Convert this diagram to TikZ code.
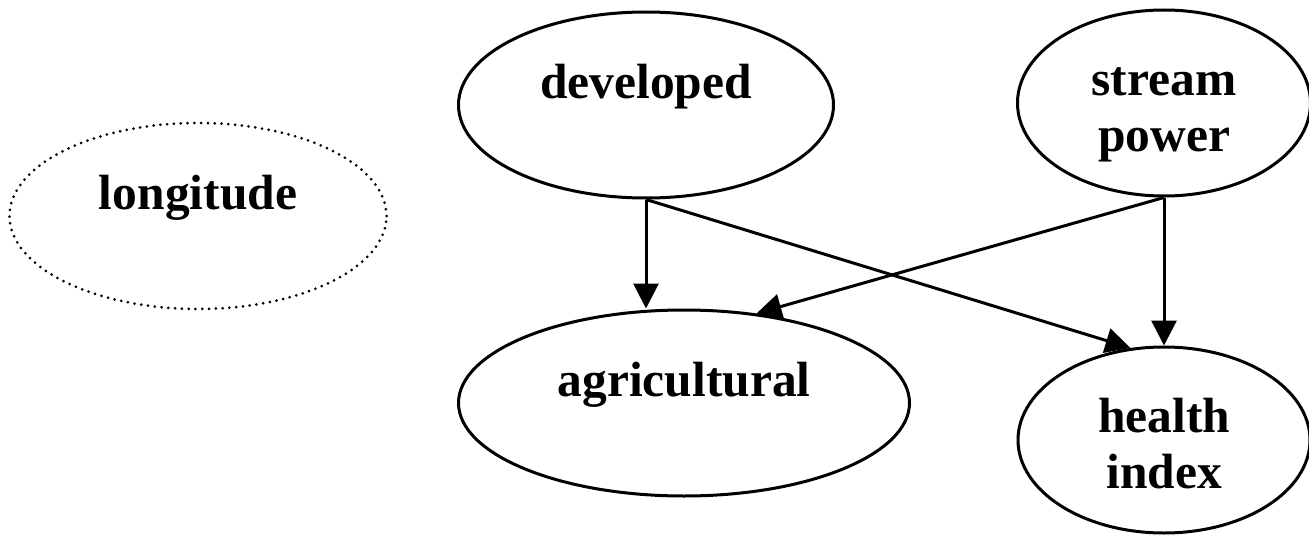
\documentclass[tikz,border=0pt]{standalone}
\usepackage{fontspec}
\setmainfont{Liberation Serif}
\usetikzlibrary{shapes.geometric,arrows.meta}
\begin{document}
\begin{tikzpicture}[x=1pt,y=-1pt,>={Triangle[length=25pt,width=25pt]},line join=round,
  font=\fontsize{49.5}{55.5}\selectfont\bfseries,
  var/.style={draw,ellipse,line width=3pt,inner sep=0pt,minimum height=186pt},
  hidden/.style={var,line width=3pt,line cap=round,dash pattern=on 0pt off 6.8pt},
  txt/.style={anchor=base,yshift=7pt,align=center,inner sep=0pt},
  txttwo/.style={txt,yshift=-55pt},
  edge/.style={->,line width=3pt}]
  \useasboundingbox (0,0) rectangle (1309,535);
  % variables
  \node[hidden,minimum width=377pt] (lon) at (198,216) {};
  \node[var,minimum width=375pt] (dev) at (646,105) {};
  \node[var,minimum width=293pt] (str) at (1164,103) {};
  \node[var,minimum width=451pt] (agr) at (684,403) {};
  \node[var,minimum width=292pt] (hea) at (1164,440) {};
  \node[txt] (lon-t) at (lon) {longitude};
  \node[txt] (dev-t) at (dev) {developed};
  \node[txttwo] (str-t) at (str) {stream\\power};
  \node[txt] (agr-t) at (agr) {agricultural};
  \node[txttwo] (hea-t) at (hea) {health\\index};
  % links
  \draw[edge] (dev.south) -- (dev.south |- agr.north);
  \draw[edge] (dev.south) -- (hea.110);
  \draw[edge] (str.south) -- (agr.51);
  \draw[edge] (str.south) -- (hea.north);
\end{tikzpicture}
\end{document}
